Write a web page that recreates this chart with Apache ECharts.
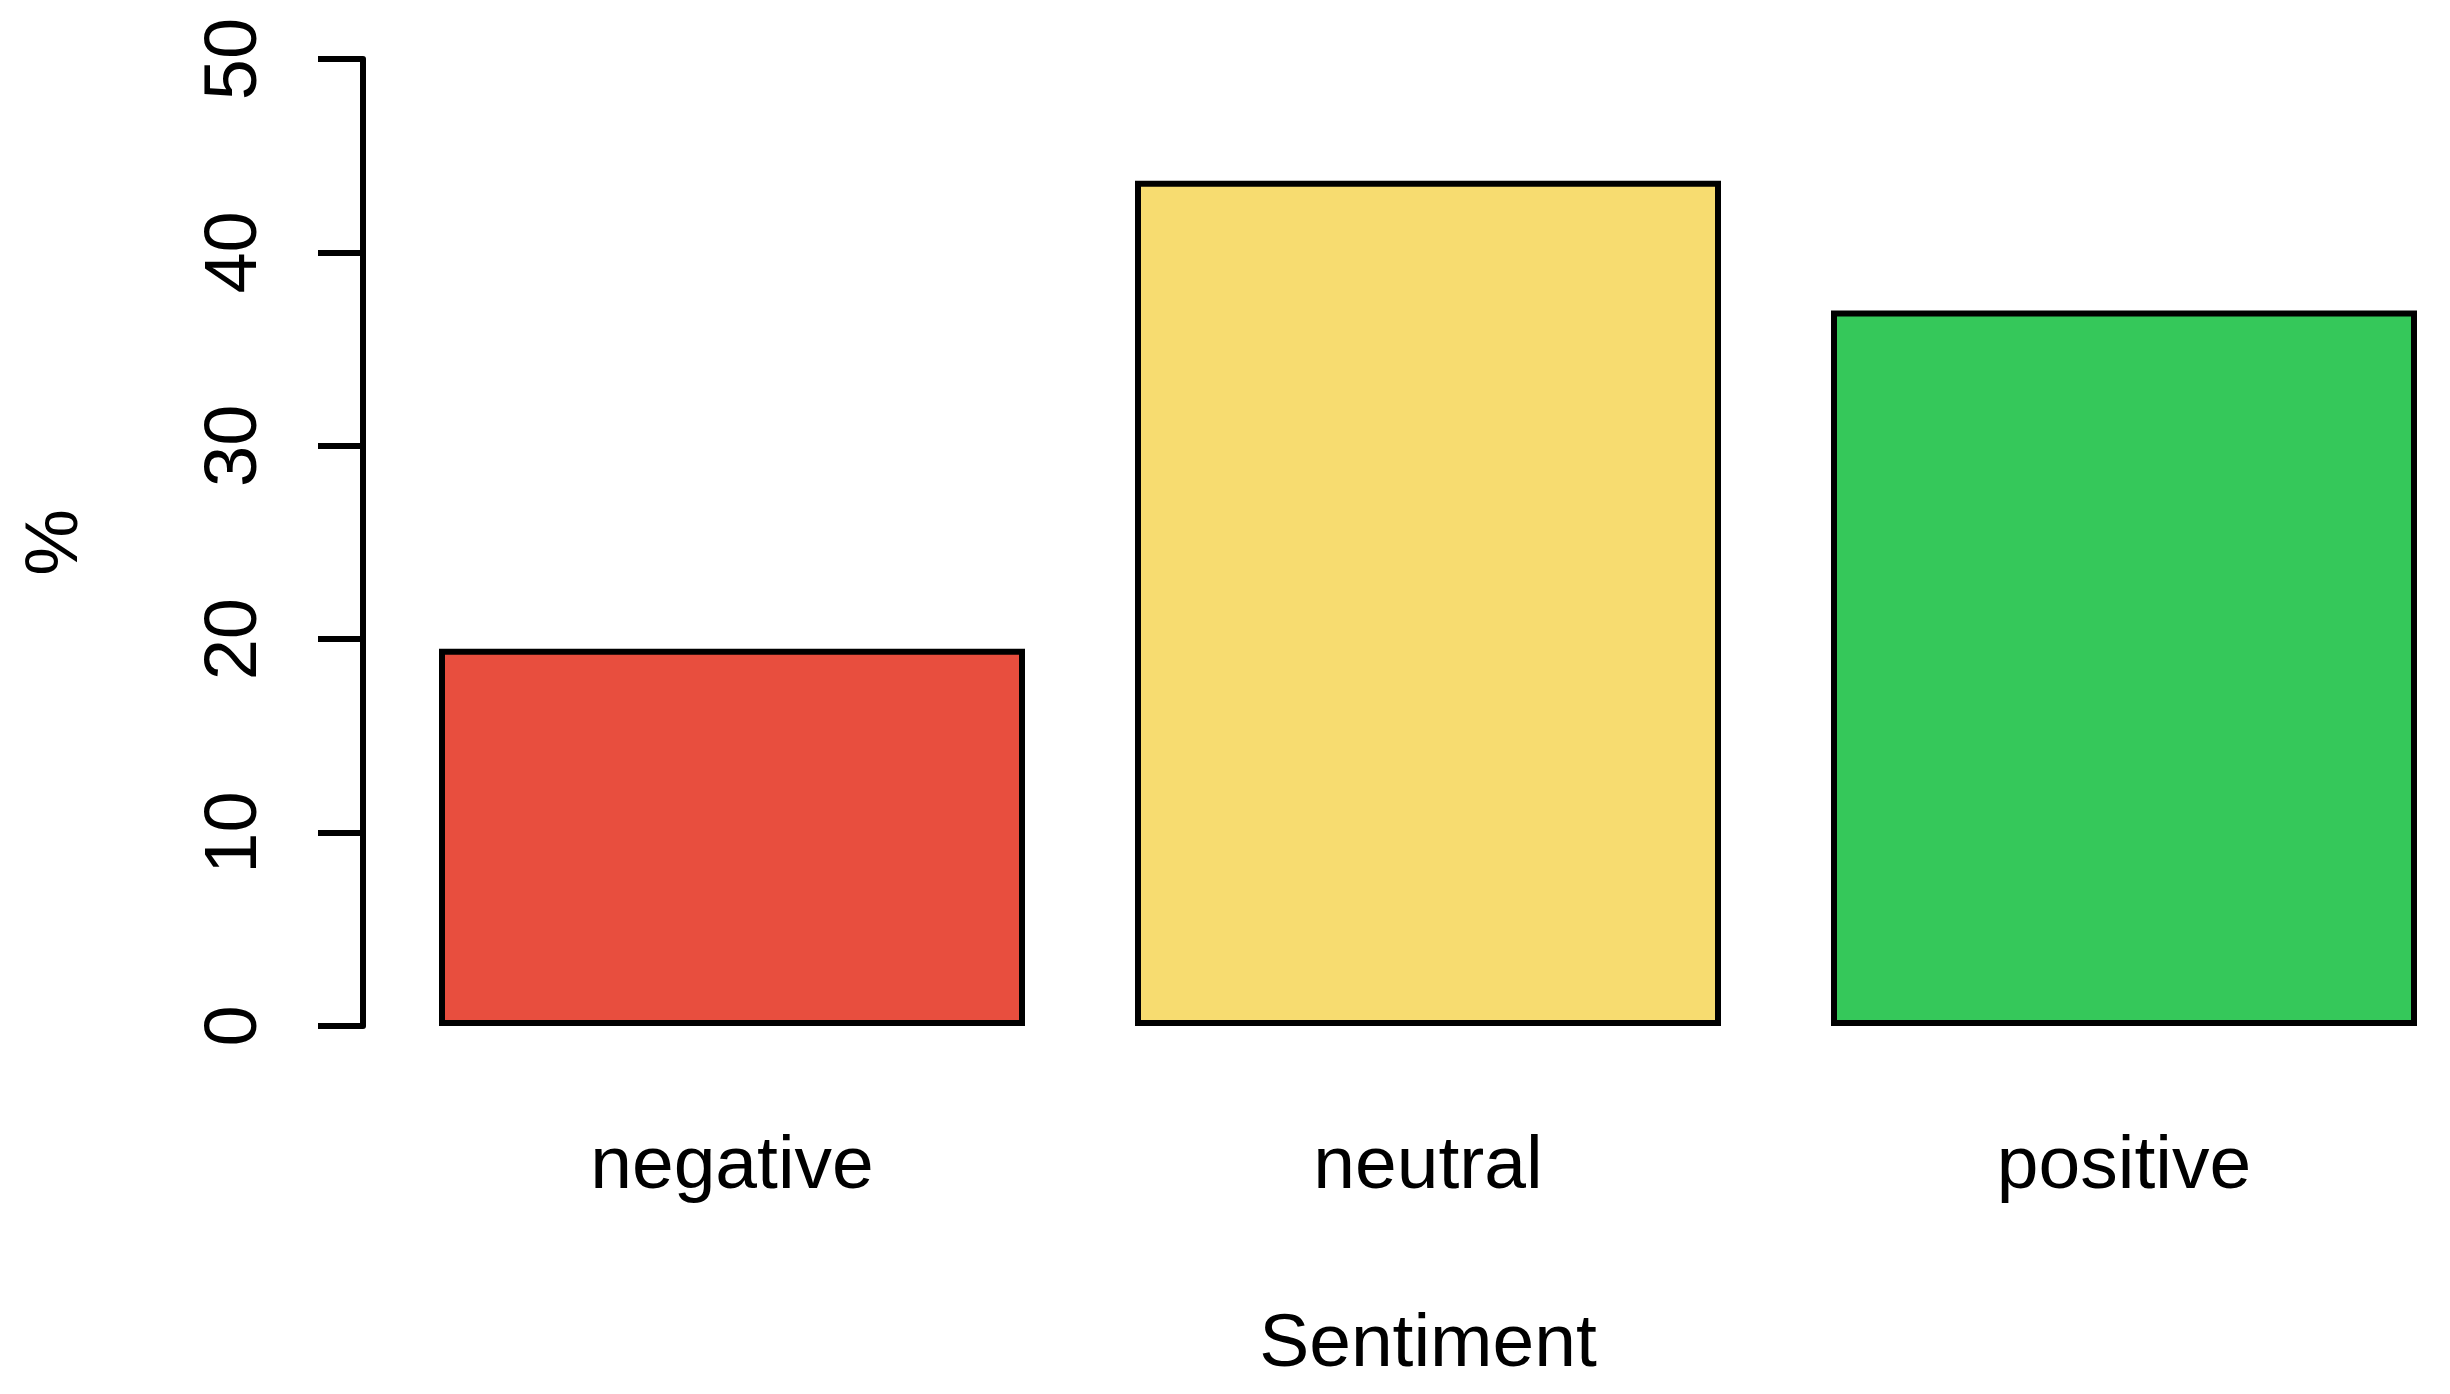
<!DOCTYPE html>
<html>
<head>
<meta charset="utf-8">
<script src="https://cdn.jsdelivr.net/npm/echarts@6/dist/echarts.min.js"></script>
<style>html,body{margin:0;padding:0;background:#fff}#c{width:2450px;height:1394px}</style>
</head>
<body>
<div id="c"></div>
<script>
const categories = ["negative", "neutral", "positive"];
const percentValues = [19.5, 43.7, 37.0];
const barColors = ["#E84E3E", "#F7DC70", "#35C85A"];
const yTicks = [0, 10, 20, 30, 40, 50];

const FONT = "Liberation Sans";
const chart = echarts.init(document.getElementById('c'), null, {renderer: 'canvas'});
chart.setOption({
  backgroundColor: '#ffffff',
  animation: false,
  grid: {left: 384, right: -22, top: 59, bottom: 368, containLabel: false, outerBoundsMode: 'none'},
  xAxis: {
    type: 'category',
    data: categories,
    axisLine: {show: false},
    axisTick: {show: false},
    axisLabel: {fontFamily: FONT, fontSize: 75, color: '#000', margin: 104},
    name: 'Sentiment',
    nameLocation: 'middle',
    nameGap: 282,
    nameTextStyle: {fontFamily: FONT, fontSize: 75, color: '#000'}
  },
  yAxis: {
    type: 'value',
    min: yTicks[0],
    max: yTicks[yTicks.length - 1],
    interval: 10,
    offset: 21,
    splitLine: {show: false},
    axisLine: {show: true, lineStyle: {color: '#000', width: 6}},
    axisTick: {show: true, length: 45, lineStyle: {color: '#000', width: 6}},
    axisLabel: {fontFamily: FONT, fontSize: 74, color: '#000', rotate: 90, margin: 90},
    name: '%',
    nameLocation: 'middle',
    nameGap: 269,
    nameRotate: 90,
    nameTextStyle: {fontFamily: FONT, fontSize: 75, color: '#000'}
  },
  series: [{
    type: 'bar',
    barWidth: 586,
    data: percentValues.map((v, i) => ({value: v, itemStyle: {color: barColors[i]}})),
    itemStyle: {borderColor: '#000', borderWidth: 6}
  }]
});
</script>
</body>
</html>
